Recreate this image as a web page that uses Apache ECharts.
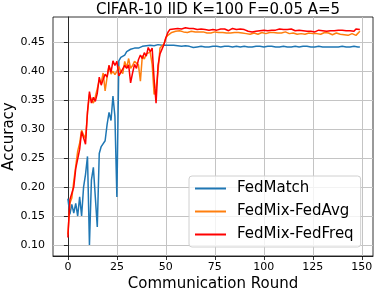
<!DOCTYPE html>
<html>
<head>
<meta charset="utf-8">
<script src="https://cdn.jsdelivr.net/npm/echarts@6/dist/echarts.min.js"></script>
<style>
html,body{margin:0;padding:0;background:#fff;}
#chart{width:374px;height:293px;}
</style>
</head>
<body>
<div id="chart"></div>
<script>
const titleText = 'CIFAR-10 IID K=100 F=0.05 A=5';
const seriesNames = ['FedMatch', 'FedMix-FedAvg', 'FedMix-FedFreq'];
const xTicks = [0, 25, 50, 75, 100, 125, 150];
const yTicks = [0.10, 0.15, 0.20, 0.25, 0.30, 0.35, 0.40, 0.45];

const fedMatch = [
0.180,0.153,0.170,0.155,0.172,0.150,0.183,0.150,0.200,0.222,
0.253,0.100,0.212,0.234,0.232,0.131,0.258,0.270,0.268,0.280,
0.308,0.329,0.315,0.357,0.322,0.183,0.418,0.424,0.421,0.428,
0.434,0.431,0.438,0.437,0.440,0.441,0.440,0.442,0.443,0.444,
0.444,0.445,0.445,0.445,0.444,0.445,0.446,0.445,0.445,0.444,
0.445,0.444,0.445,0.444,0.445,0.445,0.444,0.444,0.443,0.443,
0.444,0.443,0.443,0.442,0.441,0.441,0.442,0.442,0.443,0.442,
0.442,0.443,0.442,0.443,0.443,0.442,0.443,0.442,0.442,0.443,
0.443,0.442,0.443,0.443,0.442,0.442,0.443,0.443,0.442,0.443,
0.443,0.442,0.442,0.441,0.442,0.443,0.443,0.442,0.443,0.442,
0.442,0.443,0.443,0.442,0.443,0.442,0.442,0.441,0.442,0.443,
0.443,0.442,0.442,0.443,0.442,0.442,0.443,0.443,0.442,0.442,
0.443,0.442,0.443,0.442,0.442,0.443,0.442,0.442,0.443,0.442,
0.442,0.443,0.442,0.443,0.442,0.442,0.442,0.443,0.442,0.442,
0.443,0.442,0.442,0.443,0.442,0.442,0.443,0.442,0.442,0.442
];

const fedMixFedAvg = [
0.118,0.172,0.181,0.210,0.236,0.262,0.276,0.298,0.290,0.284,
0.328,0.360,0.350,0.345,0.356,0.370,0.384,0.380,0.397,0.366,
0.390,0.410,0.395,0.400,0.394,0.400,0.408,0.400,0.396,0.417,
0.406,0.422,0.405,0.410,0.417,0.420,0.411,0.383,0.427,0.421,
0.430,0.431,0.433,0.412,0.360,0.370,0.400,0.440,0.441,0.447,
0.458,0.462,0.465,0.467,0.468,0.469,0.468,0.470,0.469,0.468,
0.469,0.467,0.468,0.469,0.467,0.468,0.466,0.468,0.467,0.468,
0.467,0.466,0.468,0.466,0.467,0.468,0.466,0.467,0.466,0.467,
0.468,0.466,0.467,0.466,0.468,0.467,0.466,0.467,0.465,0.466,
0.467,0.465,0.466,0.464,0.465,0.466,0.465,0.464,0.466,0.467,
0.466,0.465,0.466,0.467,0.466,0.467,0.465,0.466,0.467,0.466,
0.467,0.468,0.466,0.465,0.467,0.466,0.465,0.464,0.466,0.465,
0.466,0.464,0.465,0.466,0.464,0.465,0.463,0.465,0.466,0.464,
0.465,0.467,0.465,0.466,0.464,0.463,0.465,0.466,0.465,0.464,
0.465,0.463,0.464,0.462,0.464,0.465,0.463,0.462,0.464,0.469
];

const fedMixFedFreq = [
0.113,0.178,0.176,0.200,0.232,0.234,0.265,0.296,0.294,0.274,
0.330,0.365,0.345,0.355,0.348,0.362,0.390,0.376,0.386,0.395,
0.390,0.410,0.398,0.418,0.410,0.417,0.392,0.398,0.400,0.410,
0.405,0.411,0.380,0.397,0.412,0.405,0.420,0.428,0.422,0.432,
0.426,0.441,0.434,0.440,0.386,0.345,0.410,0.430,0.428,0.446,
0.458,0.467,0.472,0.474,0.473,0.475,0.474,0.476,0.473,0.474,
0.475,0.473,0.474,0.476,0.474,0.473,0.472,0.474,0.473,0.475,
0.472,0.474,0.471,0.473,0.472,0.474,0.471,0.472,0.473,0.471,
0.473,0.472,0.470,0.472,0.474,0.471,0.472,0.470,0.473,0.471,
0.472,0.470,0.469,0.471,0.468,0.470,0.469,0.468,0.470,0.472,
0.471,0.469,0.470,0.472,0.471,0.473,0.471,0.472,0.473,0.471,
0.472,0.474,0.472,0.471,0.473,0.472,0.470,0.469,0.471,0.469,
0.470,0.468,0.469,0.471,0.469,0.470,0.468,0.470,0.471,0.469,
0.470,0.472,0.469,0.471,0.470,0.468,0.470,0.472,0.471,0.470,
0.471,0.469,0.470,0.468,0.470,0.471,0.469,0.473,0.474,0.472
];

const colors = ['#1f77b4', '#ff7f0e', '#ff0000'];
const FONT = 'DejaVu Sans';

function toPairs(arr) { return arr.map((v, i) => [i, v]); }

const chart = echarts.init(document.getElementById('chart'), null, {renderer: 'canvas'});
chart.setOption({
  animation: false,
  backgroundColor: '#fff',
  title: {
    text: titleText,
    left: 213, textAlign: 'center', top: -2,
    textStyle: {fontFamily: FONT, fontSize: 15, fontWeight: 'normal', color: '#000'}
  },
  grid: {left: 53, top: 17, width: 320, height: 239, outerBoundsMode: 'none', containLabel: false,
    show: true, borderColor: '#000', borderWidth: 0.8, backgroundColor: 'transparent'},
  legend: {
    orient: 'vertical', left: 189, top: 176,
    padding: [4, 7, 4, 6], itemGap: 6, itemWidth: 31, itemHeight: 17,
    icon: 'path://M0,0H31V2H0Z', symbolKeepAspect: true,
    backgroundColor: 'rgba(255,255,255,0.8)', borderColor: '#d0d0d0', borderWidth: 1, borderRadius: 3,
    textStyle: {fontFamily: FONT, fontSize: 15, color: '#000', lineHeight: 17, padding: [0, 0, 0, 6]},
    data: seriesNames
  },
  xAxis: {
    type: 'value', min: -7.6, max: 155.7,
    name: 'Communication Round', nameLocation: 'middle', nameGap: 21, nameMoveOverlap: false,
    nameTextStyle: {fontFamily: FONT, fontSize: 15, color: '#000', verticalAlign: 'top'},
    axisLine: {show: true, onZero: false, lineStyle: {color: '#000', width: 0.8}},
    axisTick: {show: true, length: 4, customValues: xTicks, lineStyle: {color: '#000', width: 0.8}},
    axisLabel: {customValues: xTicks, margin: 6, fontFamily: FONT, fontSize: 11, color: '#000'},
    splitLine: {show: true, lineStyle: {color: '#c4c4c4', width: 1}}
  },
  yAxis: {
    type: 'value', min: 0.081, max: 0.4937,
    name: 'Accuracy', nameLocation: 'middle', nameGap: 36, nameMoveOverlap: false,
    nameTextStyle: {fontFamily: FONT, fontSize: 15, color: '#000'},
    axisLine: {show: true, lineStyle: {color: '#000', width: 0.8}},
    axisTick: {show: true, length: 4, customValues: yTicks, lineStyle: {color: '#000', width: 0.8}},
    axisLabel: {customValues: yTicks, margin: 8, fontFamily: FONT, fontSize: 11, color: '#000',
      formatter: v => v.toFixed(2)},
    splitLine: {show: true, lineStyle: {color: '#c4c4c4', width: 1}}
  },
  series: [
    {name: seriesNames[0], type: 'line', data: toPairs(fedMatch), symbol: 'none', color: colors[0], lineStyle: {width: 1.5}, z: 2},
    {name: seriesNames[1], type: 'line', data: toPairs(fedMixFedAvg), symbol: 'none', color: colors[1], lineStyle: {width: 1.5}, z: 3},
    {name: seriesNames[2], type: 'line', data: toPairs(fedMixFedFreq), symbol: 'none', color: colors[2], lineStyle: {width: 1.5}, z: 4}
  ]
});
</script>
</body>
</html>
